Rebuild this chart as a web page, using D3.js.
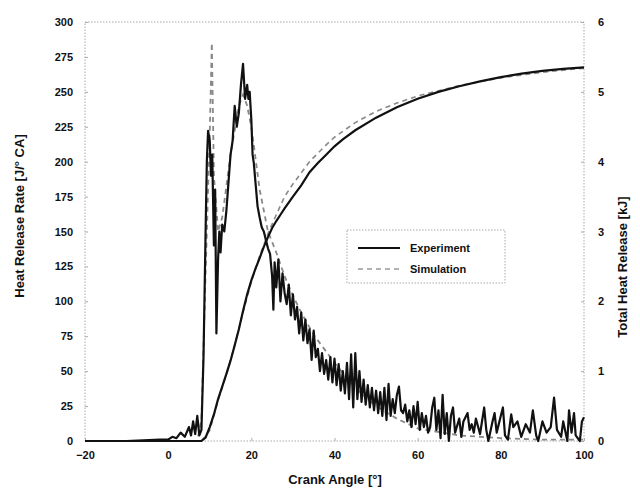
<!DOCTYPE html>
<html><head><meta charset="utf-8">
<script src="https://cdn.jsdelivr.net/npm/d3@7"></script>
<style>
body{margin:0;background:#fff;}
svg text{font-family:"Liberation Sans",Arial,sans-serif;font-weight:bold;fill:#111;}
</style></head>
<body><svg id="c" width="640" height="494"></svg>
<script>
// ---- data ----
const xTicks = [-20, 0, 20, 40, 60, 80, 100];
const yLeftTicks = [0, 25, 50, 75, 100, 125, 150, 175, 200, 225, 250, 275, 300];
const yRightTicks = [0, 1, 2, 3, 4, 5, 6];

const expHrrAngle = [-20,-10,-2,0,1,2,3,4,5,5.5,6,6.5,7,7.5,8,8.5,9,9.3,9.6,10,10.3,10.6,11,11.3,11.6,12,12.3,12.6,13,13.5,14,14.5,15,15.5,16,16.5,17,17.5,18,18.5,19,19.3,19.6,20,20.3,20.6,21,21.5,22,22.5,23,23.5,24,24.5,25,25.3,25.6,26,26.5,27,27.5,28,28.5,29,29.5,30,30.5,31,31.5,32,32.5,33,33.5,34,34.5,35,35.5,36,36.5,37,37.5,38,38.5,39,39.5,40,40.5,41,41.5,42,42.5,43,43.5,44,44.5,45,45.5,46,46.5,47,47.5,48,48.5,49,49.5,50,50.5,51,51.5,52,52.5,53,53.5,54,54.5,55,55.5,56,56.5,57,57.5,58,58.5,59,59.5,60,60.5,61,61.5,62,62.5,63,63.5,64,64.5,65,65.5,66,66.5,67,67.5,68,68.5,69,70,70.5,71,72,72.5,73,73.5,74,75,76,76.5,77,78,78.5,79,80,80.5,81,81.7,82.5,83,84,84.9,86,87,87.7,88.5,89,90,91,92,92.8,93.5,94.5,95,96,96.4,97,97.6,98,99,99.5,100];
const expHrr = [0,0,1,1,3,2,6,3,10,4,14,5,18,4,8,60,150,200,222,215,190,205,140,180,77,130,150,135,155,150,165,185,205,215,240,225,235,255,270,245,255,245,250,230,205,199,185,168,160,153,150,144,138,134,118,94,128,110,130,100,120,106,98,112,90,105,87,96,77,92,72,87,70,80,58,79,60,66,50,63,48,58,44,60,42,59,40,55,36,50,34,56,30,62,24,63,30,50,28,44,26,40,24,38,22,36,20,35,18,38,15,41,18,30,20,33,39,22,20,26,14,22,10,25,12,28,8,20,10,18,6,10,24,31,8,22,2,33,5,20,0,18,24,6,16,3,14,20,8,12,6,16,5,24,8,0,14,20,6,18,24,4,1,19,10,14,3,12,6,22,4,0,14,6,10,31,8,3,14,0,22,6,20,4,0,14,17];

const simHrrAngle = [-20,0,7,8,9,10,10.5,11,12,13,15,17,18,19,20,22,24,26,28,30,32,35,40,45,50,55,60,70,80,90,100];
const simHrr = [0,0,0,15,120,220,285,190,150,160,205,240,248,240,225,180,150,135,118,104,92,76,56,38,25,16,9,4,2,1,1];

const expCumAngle = [-20,8,9,10,11,12,13,14,15,16,17,18,19,20,21,22,23,24,25,26,27,28,30,32,34,36,38,40,42,45,50,55,60,65,70,75,80,85,90,95,100];
const expCum = [0,0,0.05,0.2,0.38,0.6,0.78,0.96,1.15,1.37,1.6,1.86,2.1,2.3,2.47,2.62,2.78,2.92,3.05,3.15,3.24,3.33,3.5,3.66,3.85,3.98,4.1,4.22,4.32,4.45,4.63,4.78,4.9,5.0,5.08,5.15,5.21,5.26,5.3,5.33,5.35];

const simCumAngle = [-20,8,10,12,14,16,18,20,22,24,26,28,30,32,34,36,38,40,45,50,55,60,70,80,90,100];
const simCum = [0,0,0.15,0.58,0.95,1.37,1.84,2.28,2.65,2.97,3.24,3.5,3.68,3.84,4.0,4.12,4.24,4.35,4.56,4.72,4.84,4.94,5.09,5.2,5.28,5.34];

const legendLabels = ["Experiment", "Simulation"];

// ---- chart ----
const svg = d3.select("#c");
const L = 85, R = 584, T = 22, B = 441;
const x = d3.scaleLinear().domain([-20, 100]).range([L, R]);
const yL = d3.scaleLinear().domain([0, 300]).range([B, T]);
const yR = d3.scaleLinear().domain([0, 6]).range([B, T]);

const frameColor = "#aaa";
svg.append("rect").attr("x", L).attr("y", T).attr("width", R - L).attr("height", B - T)
  .attr("fill", "none").attr("stroke", frameColor).attr("stroke-width", 1).attr("stroke-dasharray", "1.5,1.5");

function styleAxis(g) {
  g.select(".domain").remove();
  g.selectAll(".tick line").attr("stroke", frameColor);
  g.selectAll(".tick text").style("font-size", "11px");
}
svg.append("g").attr("transform", `translate(0,${B})`)
  .call(d3.axisBottom(x).tickValues(xTicks).tickSize(-3).tickPadding(10).tickFormat(d3.format("d")))
  .call(styleAxis);
svg.append("g").attr("transform", `translate(${L},0)`)
  .call(d3.axisLeft(yL).tickValues(yLeftTicks).tickSize(-3).tickPadding(12).tickFormat(d3.format("d")))
  .call(styleAxis);
svg.append("g").attr("transform", `translate(${R},0)`)
  .call(d3.axisRight(yR).tickValues(yRightTicks).tickSize(-3).tickPadding(14).tickFormat(d3.format("d")))
  .call(styleAxis);

svg.append("text").attr("x", 335).attr("y", 484).attr("text-anchor", "middle")
  .style("font-size", "13px").text("Crank Angle [°]");
svg.append("text").attr("transform", "translate(24,216) rotate(-90)").attr("text-anchor", "middle")
  .style("font-size", "13px").text("Heat Release Rate [J/° CA]");
svg.append("text").attr("transform", "translate(627,267) rotate(-90)").attr("text-anchor", "middle")
  .style("font-size", "13px").text("Total Heat Release [kJ]");

const plot = svg.append("g");
const lineL = (ax, vals) => d3.line().x((d, i) => x(ax[i])).y(d => yL(d))(vals);
const lineR = (ax, vals) => d3.line().x((d, i) => x(ax[i])).y(d => yR(d))(vals);

plot.append("path").attr("d", lineR(simCumAngle, simCum)).attr("fill", "none")
  .attr("stroke", "#888").attr("stroke-width", 1.6).attr("stroke-dasharray", "5,4");
plot.append("path").attr("d", lineL(simHrrAngle, simHrr)).attr("fill", "none")
  .attr("stroke", "#888").attr("stroke-width", 1.8).attr("stroke-dasharray", "5,4");
plot.append("path").attr("d", lineR(expCumAngle, expCum)).attr("fill", "none")
  .attr("stroke", "#111").attr("stroke-width", 2.2);
plot.append("path").attr("d", lineL(expHrrAngle, expHrr)).attr("fill", "none")
  .attr("stroke", "#111").attr("stroke-width", 2.2).attr("stroke-linejoin", "round");

const lg = svg.append("g");
lg.append("rect").attr("x", 347).attr("y", 230).attr("width", 158).attr("height", 53)
  .attr("fill", "#fff").attr("stroke", frameColor).attr("stroke-dasharray", "1.5,1.5");
const legendStyles = [{c: "#111", w: 2, dash: null}, {c: "#999", w: 1.5, dash: "5,4"}];
legendLabels.forEach((lab, i) => {
  const yy = 248 + i * 21;
  const ln = lg.append("line").attr("x1", 358).attr("x2", 400).attr("y1", yy).attr("y2", yy)
    .attr("stroke", legendStyles[i].c).attr("stroke-width", legendStyles[i].w);
  if (legendStyles[i].dash) ln.attr("stroke-dasharray", legendStyles[i].dash);
  lg.append("text").attr("x", 410).attr("y", yy + 4).style("font-size", "11px").text(lab);
});
</script></body></html>
